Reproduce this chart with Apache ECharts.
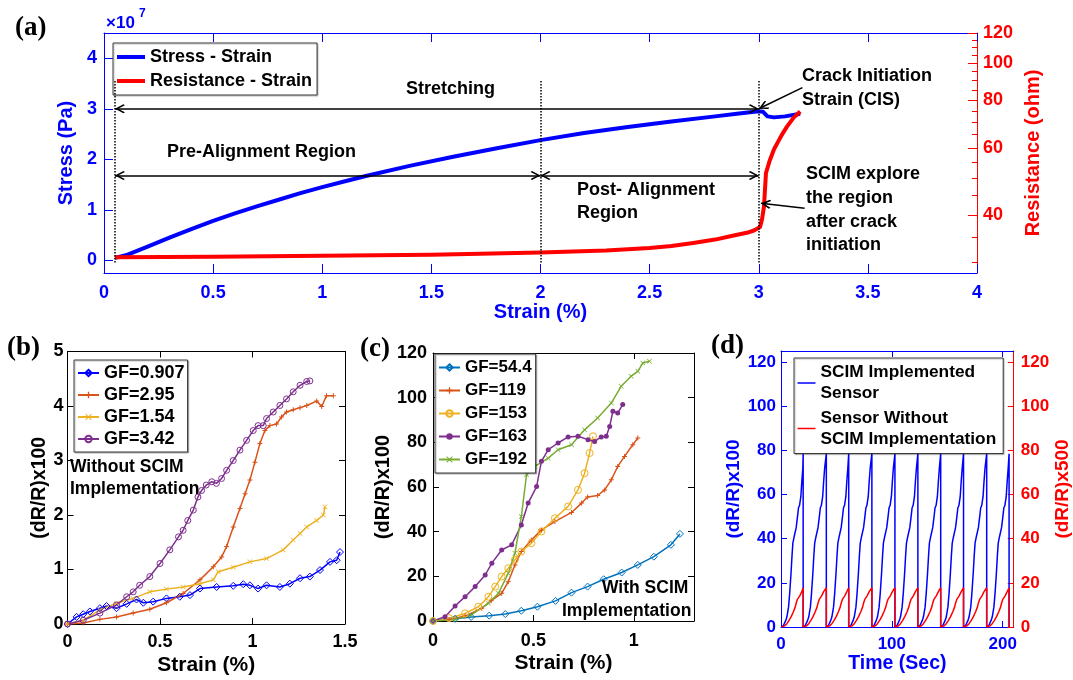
<!DOCTYPE html>
<html>
<head>
<meta charset="utf-8">
<title>Stress-strain and SCIM sensor response</title>
<script src="https://cdn.jsdelivr.net/npm/echarts@6/dist/echarts.min.js"></script>
<style>
  html, body { margin: 0; padding: 0; background: #fff; }
  #chart { width: 1073px; height: 680px; }
</style>
</head>
<body>
<div id="chart"></div>
<script>
// ---------------------------------------------------------------- data (a)
var strainStress = [0.05, 0.1, 0.2, 0.3, 0.4, 0.5, 0.6, 0.7, 0.8, 0.9, 1.0, 1.1, 1.2, 1.4, 1.6, 1.8, 2.0, 2.2, 2.4, 2.6, 2.8, 2.9, 3.0, 3.02, 3.04, 3.07, 3.12, 3.19];
var stressE7 = [0.05, 0.1, 0.27, 0.45, 0.62, 0.78, 0.93, 1.07, 1.2, 1.33, 1.45, 1.56, 1.67, 1.87, 2.05, 2.22, 2.38, 2.52, 2.64, 2.75, 2.85, 2.9, 2.95, 2.94, 2.85, 2.83, 2.85, 2.9];
var strainRes = [0.05, 0.5, 1.0, 1.5, 2.0, 2.3, 2.5, 2.6, 2.7, 2.8, 2.88, 2.95, 2.98, 3.006, 3.015, 3.024, 3.033, 3.05, 3.07, 3.09, 3.11, 3.13, 3.16, 3.19];
var resistance = [31.0, 31.1, 31.3, 31.5, 31.9, 32.3, 32.8, 33.2, 33.8, 34.5, 35.3, 36.0, 36.5, 37.2, 39.0, 42.1, 51.5, 55.5, 59.5, 62.5, 65.5, 68.3, 72.0, 74.7];
var stressTicks = [0, 1, 2, 3, 4];
var resLabels = [40, 60, 80, 100, 120];
var resMinor = [30, 35, 40, 45, 50, 55, 60, 65, 70, 75, 80, 85, 90, 95, 100, 105, 110, 115, 120];

// ---------------------------------------------------------------- data (b)
var bNames = ['GF=0.907', 'GF=2.95', 'GF=1.54', 'GF=3.42'];
var b0907 = [[0, 0], [0.049, 0.13], [0.085, 0.18], [0.121, 0.23], [0.175, 0.29], [0.211, 0.33], [0.265, 0.29], [0.32, 0.37], [0.373, 0.45], [0.41, 0.39], [0.463, 0.41], [0.535, 0.47], [0.607, 0.5], [0.662, 0.53], [0.716, 0.65], [0.806, 0.68], [0.896, 0.7], [0.95, 0.73], [0.986, 0.71], [1.03, 0.65], [1.076, 0.71], [1.148, 0.68], [1.202, 0.74], [1.257, 0.84], [1.31, 0.87], [1.365, 0.99], [1.419, 1.14], [1.455, 1.17], [1.473, 1.32]];
var b295 = [[0, 0], [0.085, 0.02], [0.175, 0.085], [0.265, 0.13], [0.355, 0.2], [0.445, 0.27], [0.535, 0.39], [0.625, 0.56], [0.716, 0.81], [0.788, 1.05], [0.833, 1.23], [0.86, 1.42], [0.896, 1.78], [0.932, 2.12], [0.96, 2.39], [0.986, 2.64], [1.013, 2.97], [1.04, 3.31], [1.067, 3.55], [1.094, 3.64], [1.13, 3.67], [1.157, 3.8], [1.184, 3.89], [1.22, 3.93], [1.257, 3.97], [1.293, 4.01], [1.347, 4.09], [1.374, 3.99], [1.4, 4.19], [1.437, 4.19]];
var b154 = [[0, 0], [0.085, 0.07], [0.175, 0.26], [0.265, 0.38], [0.355, 0.47], [0.445, 0.59], [0.535, 0.64], [0.625, 0.68], [0.716, 0.74], [0.788, 0.81], [0.815, 0.96], [0.896, 1.04], [0.986, 1.14], [1.076, 1.2], [1.166, 1.36], [1.22, 1.54], [1.257, 1.66], [1.293, 1.78], [1.347, 1.9], [1.383, 2.0], [1.392, 2.15]];
var b342 = [[0, 0], [0.085, 0.07], [0.175, 0.2], [0.265, 0.35], [0.32, 0.5], [0.355, 0.59], [0.39, 0.71], [0.445, 0.87], [0.5, 1.11], [0.553, 1.36], [0.6, 1.6], [0.625, 1.72], [0.65, 1.9], [0.68, 2.09], [0.705, 2.33], [0.725, 2.45], [0.75, 2.55], [0.78, 2.61], [0.805, 2.58], [0.833, 2.67], [0.86, 2.82], [0.896, 3.0], [0.932, 3.19], [0.968, 3.37], [1.004, 3.55], [1.03, 3.64], [1.058, 3.64], [1.076, 3.77], [1.112, 3.89], [1.148, 4.01], [1.184, 4.13], [1.22, 4.26], [1.257, 4.38], [1.293, 4.45], [1.31, 4.46]];

// ---------------------------------------------------------------- data (c)
var cNames = ['GF=54.4', 'GF=119', 'GF=153', 'GF=163', 'GF=192'];
var c544 = [[0, 0], [0.11, 1], [0.19, 1.8], [0.28, 2.4], [0.36, 3.1], [0.44, 4.6], [0.52, 6.4], [0.61, 9], [0.69, 12.7], [0.77, 15.4], [0.85, 18.7], [0.94, 21.7], [1.02, 25.1], [1.1, 28.8], [1.185, 34.1], [1.23, 39]];
var c119 = [[0, 0], [0.08, 0.7], [0.16, 2.2], [0.243, 5.7], [0.29, 9.1], [0.342, 12.4], [0.375, 17.6], [0.408, 25.1], [0.44, 31.1], [0.49, 36.3], [0.54, 40.8], [0.607, 44.5], [0.69, 48.6], [0.74, 52.8], [0.77, 55.5], [0.82, 56.2], [0.855, 58.7], [0.888, 63.2], [0.92, 69.2], [0.954, 73.7], [0.995, 78.9], [1.02, 81.9]];
var c153 = [[0, 0], [0.08, 1.3], [0.16, 3.4], [0.226, 6.4], [0.276, 10.9], [0.31, 15.4], [0.342, 19.9], [0.375, 23.6], [0.408, 27.4], [0.44, 31.1], [0.49, 34.8], [0.54, 40.1], [0.607, 46], [0.673, 51.3], [0.722, 58.7], [0.755, 66.2], [0.78, 75.2], [0.797, 82.7]];
var c163 = [[0, 0], [0.06, 1.9], [0.11, 6.7], [0.16, 10.9], [0.21, 15.4], [0.26, 20.6], [0.293, 25.9], [0.342, 31.8], [0.392, 34.1], [0.44, 43], [0.474, 52.8], [0.516, 60.2], [0.54, 71.5], [0.574, 76.7], [0.623, 79.7], [0.673, 82.4], [0.722, 82.7], [0.772, 81.2], [0.805, 80.4], [0.838, 82.4], [0.863, 82.7], [0.88, 87.1], [0.896, 93.9], [0.92, 93.1], [0.945, 96.9]];
var c192 = [[0, 0], [0.11, 0.7], [0.19, 2.7], [0.276, 7.9], [0.326, 12.4], [0.375, 21.4], [0.408, 30.3], [0.44, 46.8], [0.466, 65.5], [0.507, 69.2], [0.574, 72.9], [0.623, 76.7], [0.69, 78.9], [0.755, 85.6], [0.82, 90.9], [0.888, 97.6], [0.937, 105.1], [0.987, 109.6], [1.02, 111.8], [1.045, 115.5], [1.078, 116.3]];

// ---------------------------------------------------------------- data (d)
var dNames = ['SCIM Implemented\nSensor', 'Sensor Without\nSCIM Implementation'];
var dFirstStart = 0.3;
var dDropTimes = [20.0, 40.9, 61.1, 82.0, 102.8, 123.5, 144.1, 164.7, 185.6, 205.8];
// one loading cycle, time from the cycle start (s) and value
var dBlueTau = [0, 2, 4, 5, 6.5, 7.5, 8.7, 9.6, 10.4, 11.6, 13.4, 14.6, 15.5, 16.4, 17.6, 18.5, 19.4];
var dBlueVal = [0, 0.8, 3, 4.5, 9, 15, 24, 32, 38, 41, 45, 50, 54, 55, 59, 66, 72];
var dBluePeak = 78.5;
var dRedTau = [0, 3, 5, 7, 9, 11, 12.5, 13.5, 14.5, 15.5, 16.5, 17.5, 18.5];
var dRedVal = [0, 0.5, 1.5, 3, 4.8, 7, 9, 11, 12.5, 13, 14, 15, 16];
var dRedPeak = 17.8;

// ---------------------------------------------------------------- helpers
var BLUE = '#0000ff', RED = '#ff0000', BLACK = '#000000';
var FONT = '"Liberation Sans", Arial, Helvetica, sans-serif';
var SERIF = '"Liberation Serif", "Times New Roman", serif';
var ARROW = 'path://M5,0L10,8.5L8.8,10L5,3.2L1.2,10L0,8.5Z';
var PLUS = 'path://M4,0H6V4H10V6H6V10H4V6H0V4H4Z';
var CROSS = 'path://M0,1L1,0L5,4L9,0L10,1L6,5L10,9L9,10L5,6L1,10L0,9L4,5Z';

function zip(xs, ys) {
    return xs.map(function (x, i) { return [x, ys[i]]; });
}

function buildCycles(tau, val, peak) {
    var out = [];
    var start = dFirstStart;
    dDropTimes.forEach(function (drop) {
        for (var i = 0; i < tau.length; i++) {
            if (start + tau[i] < drop) out.push([start + tau[i], val[i]]);
        }
        out.push([drop, peak]);
        out.push([drop, 0]);
        start = drop;
    });
    return out;
}

function axis(o) {
    return {
        gridIndex: o.grid,
        type: 'value',
        min: o.min,
        max: o.max,
        interval: o.interval,
        position: o.position,
        axisLine: { show: o.line !== false, onZero: false, lineStyle: { color: o.color, width: 1 } },
        axisTick: {
            show: true, inside: true, length: o.tickLen || 6,
            lineStyle: { color: o.color, width: 1 },
            customValues: o.ticks
        },
        axisLabel: {
            show: !!o.label, color: o.color, fontSize: o.fontSize || 18, fontWeight: 'bold',
            fontFamily: FONT, margin: o.margin, customValues: o.labels, formatter: o.formatter
        },
        splitLine: { show: false },
        name: o.name,
        nameLocation: 'middle',
        nameGap: o.nameGap,
        nameTextStyle: { color: o.color, fontSize: o.nameSize || 20, fontWeight: 'bold', fontFamily: FONT }
    };
}

function txt(x, y, text, size, color, family) {
    return {
        type: 'text', x: x, y: y, z: 100, silent: true,
        style: {
            text: text, fill: color || BLACK,
            font: 'bold ' + size + 'px ' + (family || FONT),
            align: 'left', verticalAlign: 'middle'
        }
    };
}

function legend(o) {
    return {
        data: o.data, orient: 'vertical', left: o.left, top: o.top,
        icon: o.icon, itemWidth: o.itemWidth, itemHeight: o.itemHeight, itemGap: o.itemGap,
        padding: o.padding, backgroundColor: '#fff', borderColor: '#3a3a3a', borderWidth: 1,
        shadowColor: 'rgba(0,0,0,0.25)', shadowOffsetX: 1, shadowOffsetY: 1, shadowBlur: 1,
        selectedMode: false,
        textStyle: { fontSize: o.fontSize, fontWeight: 'bold', color: BLACK, fontFamily: FONT, lineHeight: o.lineHeight }
    };
}

function lineSeries(name, data, xi, yi, color, symbol, size, hollow) {
    return {
        name: name, type: 'line', xAxisIndex: xi, yAxisIndex: yi, data: data,
        symbol: symbol || 'none', symbolSize: size, showSymbol: !!symbol,
        color: color,
        lineStyle: { color: color, width: 1.5 },
        itemStyle: hollow ? { color: 'rgba(255,255,255,0)', borderColor: color, borderWidth: 1 } : { color: color },
        emphasis: { disabled: true },
        silent: true
    };
}

// arrows and guide lines of panel (a), in data coordinates (strain, stress x1e7)
function arrowPair(a, b, startArrow) {
    return [
        { coord: a, symbol: startArrow ? ARROW : 'none', symbolSize: [9, 10], symbolOffset: [0, 5] },
        { coord: b, symbol: ARROW, symbolSize: [9, 10], symbolOffset: [0, 5] }
    ];
}
function dottedPair(x) {
    return [
        { coord: [x, -0.04], lineStyle: { type: 'dotted', width: 1.5, color: BLACK } },
        { coord: [x, 3.56] }
    ];
}

var log10 = function (v) { return Math.log10(v); };

// ---------------------------------------------------------------- chart
var dom = document.getElementById('chart');
var myChart = echarts.init(dom, null, { renderer: 'canvas' });

var option = {
    animation: false,
    backgroundColor: '#fff',
    textStyle: { fontFamily: FONT },
    grid: [
        { left: 104, top: 33, width: 873, height: 240 },   // (a)
        { left: 67.5, top: 351.5, width: 277.5, height: 272.5 }, // (b)
        { left: 433, top: 353, width: 261, height: 268 },  // (c)
        { left: 781, top: 351, width: 235, height: 276 }   // (d)
    ],
    xAxis: [
        axis({ grid: 0, min: 0, max: 4, interval: 0.5, position: 'bottom', color: BLUE, tickLen: 9, label: true,
            margin: 11, name: 'Strain (%)', nameGap: 29, nameSize: 20 }),
        axis({ grid: 0, min: 0, max: 4, interval: 0.5, position: 'top', color: BLUE, tickLen: 9 }),
        axis({ grid: 1, min: 0, max: 1.5, interval: 0.5, position: 'bottom', color: BLACK, label: true,
            margin: 9, name: 'Strain (%)', nameGap: 31, nameSize: 21 }),
        axis({ grid: 1, min: 0, max: 1.5, interval: 0.5, position: 'top', color: BLACK }),
        axis({ grid: 2, min: 0, max: 1.3, ticks: [0, 0.5, 1], labels: [0, 0.5, 1], position: 'bottom', color: BLACK,
            label: true, margin: 11, name: 'Strain (%)', nameGap: 32, nameSize: 21 }),
        axis({ grid: 2, min: 0, max: 1.3, ticks: [0, 0.5, 1], position: 'top', color: BLACK }),
        axis({ grid: 3, min: 0, max: 210, ticks: [0, 100, 200], labels: [0, 100, 200], position: 'bottom', color: BLUE,
            label: true, fontSize: 17, margin: 9, name: 'Time (Sec)', nameGap: 25, nameSize: 19.5 }),
        axis({ grid: 3, min: 0, max: 210, ticks: [0, 100, 200], position: 'top', color: BLUE })
    ],
    yAxis: [
        axis({ grid: 0, min: -0.25, max: 4.5, ticks: stressTicks, labels: stressTicks, position: 'left', color: BLUE,
            tickLen: 9, label: true, margin: 7, name: 'Stress (Pa)', nameGap: 18, nameSize: 20 }),
        axis({ grid: 0, min: log10(28.2), max: log10(120), ticks: resMinor.map(log10), labels: resLabels.map(log10),
            position: 'right', color: RED, tickLen: 5, label: true, margin: 6,
            formatter: function (v) { return String(Math.round(Math.pow(10, v))); },
            name: 'Resistance (ohm)', nameGap: 44, nameSize: 20 }),
        axis({ grid: 0, min: log10(28.2), max: log10(120), ticks: resLabels.map(log10), position: 'right',
            color: RED, tickLen: 9, line: false }),
        axis({ grid: 1, min: 0, max: 5, interval: 1, position: 'left', color: BLACK, label: true, margin: 4,
            name: '(dR/R)x100', nameGap: 17, nameSize: 19.5 }),
        axis({ grid: 1, min: 0, max: 5, interval: 1, position: 'right', color: BLACK }),
        axis({ grid: 2, min: 0, max: 120, interval: 20, position: 'left', color: BLACK, label: true, margin: 6,
            name: '(dR/R)x100', nameGap: 34, nameSize: 20 }),
        axis({ grid: 2, min: 0, max: 120, interval: 20, position: 'right', color: BLACK }),
        axis({ grid: 3, min: 0, max: 125, ticks: [0, 20, 40, 60, 80, 100, 120], labels: [0, 20, 40, 60, 80, 100, 120],
            position: 'left', color: BLUE, label: true, fontSize: 17, margin: 5,
            name: '(dR/R)x100', nameGap: 28, nameSize: 19 }),
        axis({ grid: 3, min: 0, max: 125, ticks: [0, 20, 40, 60, 80, 100, 120], labels: [0, 20, 40, 60, 80, 100, 120],
            position: 'right', color: RED, label: true, fontSize: 17, margin: 7,
            name: '(dR/R)x500', nameGap: 28, nameSize: 19 })
    ],
    legend: [
        legend({ data: ['Stress - Strain', 'Resistance - Strain'], left: 113, top: 43, icon: 'rect',
            itemWidth: 28, itemHeight: 4, itemGap: 6, padding: [5, 5, 5, 4], fontSize: 18 }),
        legend({ data: bNames, left: 74, top: 360, itemWidth: 21, itemHeight: 8, itemGap: 4,
            padding: [4, 3, 4, 3], fontSize: 18 }),
        legend({ data: cNames, left: 435, top: 354, itemWidth: 21, itemHeight: 8, itemGap: 6,
            padding: [5, 4, 5, 3], fontSize: 17 }),
        legend({ data: dNames, left: 794, top: 358, icon: 'rect', itemWidth: 18, itemHeight: 1.5, itemGap: 3.5,
            padding: [4, 7, 4, 3.5], fontSize: 17.3, lineHeight: 21 })
    ],
    series: [
        {
            name: 'Stress - Strain', type: 'line', xAxisIndex: 0, yAxisIndex: 0,
            data: zip(strainStress, stressE7), symbol: 'none', smooth: false,
            color: BLUE, lineStyle: { color: BLUE, width: 4, join: 'round' }, silent: true, emphasis: { disabled: true },
            markLine: {
                silent: true, symbol: 'none', animation: false,
                label: { show: false }, emphasis: { disabled: true },
                lineStyle: { color: BLACK, width: 1.5, type: 'solid' },
                data: [
                    dottedPair(0.05), dottedPair(2.0), dottedPair(3.0),
                    arrowPair([0.05, 3.0], [3.0, 3.0], true),
                    arrowPair([0.05, 1.68], [2.0, 1.68], true),
                    arrowPair([2.0, 1.68], [3.0, 1.68], true),
                    arrowPair([3.2, 3.42], [3.0, 3.0], false),
                    arrowPair([3.21, 1.03], [3.01, 1.13], false)
                ]
            }
        },
        {
            name: 'Resistance - Strain', type: 'line', xAxisIndex: 0, yAxisIndex: 1,
            data: strainRes.map(function (s, i) { return [s, log10(resistance[i])]; }),
            symbol: 'none', color: RED, lineStyle: { color: RED, width: 4, join: 'round' }, silent: true, emphasis: { disabled: true }
        },
        lineSeries(bNames[0], b0907, 2, 3, '#0000ff', 'diamond', 7, true),
        lineSeries(bNames[1], b295, 2, 3, '#D95319', PLUS, 5),
        lineSeries(bNames[2], b154, 2, 3, '#EDB120', CROSS, 5),
        lineSeries(bNames[3], b342, 2, 3, '#7E2F8E', 'circle', 6, true),
        lineSeries(cNames[0], c544, 4, 5, '#0072BD', 'diamond', 7, true),
        lineSeries(cNames[1], c119, 4, 5, '#D95319', PLUS, 5),
        lineSeries(cNames[2], c153, 4, 5, '#EDB120', 'circle', 7, true),
        lineSeries(cNames[3], c163, 4, 5, '#7E2F8E', 'circle', 5),
        lineSeries(cNames[4], c192, 4, 5, '#77AC30', CROSS, 5),
        lineSeries(dNames[0], buildCycles(dBlueTau, dBlueVal, dBluePeak), 6, 7, BLUE),
        lineSeries(dNames[1], buildCycles(dRedTau, dRedVal, dRedPeak), 6, 8, RED)
    ],
    graphic: [
        txt(15, 28, '(a)', 27, BLACK, SERIF),
        txt(7, 348, '(b)', 27, BLACK, SERIF),
        txt(360, 349, '(c)', 27, BLACK, SERIF),
        txt(711, 346, '(d)', 27, BLACK, SERIF),
        txt(106, 23, '\u00d710', 17, BLUE),
        txt(139, 14, '7', 12, BLUE),
        txt(406, 89, 'Stretching', 18),
        txt(167, 152, 'Pre-Alignment Region', 18),
        txt(577, 190, 'Post- Alignment', 18),
        txt(577, 213, 'Region', 18),
        txt(802, 76, 'Crack Initiation', 18),
        txt(802, 100, 'Strain (CIS)', 18),
        txt(806, 174, 'SCIM explore', 18),
        txt(806, 198, 'the region', 18),
        txt(806, 222, 'after crack', 18),
        txt(806, 245, 'initiation', 18),
        txt(70, 467, 'Without SCIM', 17.5),
        txt(70, 489, 'Implementation', 17.5),
        txt(602, 588, 'With SCIM', 17.5),
        txt(562, 611, 'Implementation', 17.5)
    ]
};

myChart.setOption(option);
</script>
</body>
</html>
